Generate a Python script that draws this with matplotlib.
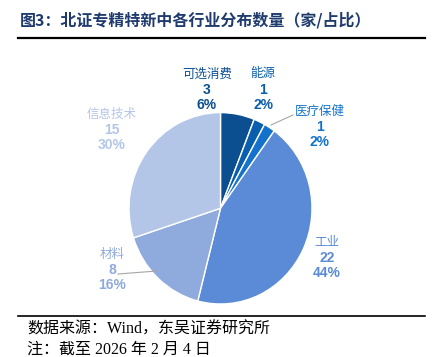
import matplotlib.pyplot as plt
from matplotlib.lines import Line2D

# data
sectors = ["可选消费", "能源", "医疗保健", "工业", "材料", "信息技术"]
counts = [3, 1, 1, 22, 8, 15]
shares = ["6%", "2%", "2%", "44%", "16%", "30%"]
colors = ["#0B4F91", "#0A5EAE", "#1373CC", "#5B8BD6", "#8FAADC", "#B4C6E7"]

W, H = 443, 357
fig = plt.figure(figsize=(W / 100, H / 100), dpi=100)


def px(x, y):
    return x / W, 1 - y / H


cjk = ["Noto Sans CJK SC", "DejaVu Sans"]
num = ["Liberation Sans", "DejaVu Sans"]
serif = ["Liberation Serif", "Noto Sans CJK SC"]

# title + rules
fig.text(*px(20, 20), "图3：北证专精特新中各行业分布数量（家/占比）", family=cjk,
         fontsize=11.5, fontweight="bold", color="#1F3B6E", va="center", ha="left")
fig.add_artist(Line2D([18 / W, 425 / W], [1 - 38 / H] * 2, color="black", lw=1.6))
fig.add_artist(Line2D([18 / W, 425 / W], [1 - 316 / H] * 2, color="black", lw=1.2))

# pie
cx, cy, rx, ry = 220.5, 208.3, 91.5, 95.7
ax = fig.add_axes([(cx - rx) / W, 1 - (cy + ry) / H, 2 * rx / W, 2 * ry / H])
ax.pie(counts, colors=colors, startangle=90, counterclock=False,
       wedgeprops=dict(edgecolor="white", linewidth=1.0))
ax.set_aspect("auto")
ax.set_xlim(-1, 1)
ax.set_ylim(-1, 1)
ax.axis("off")

# labels
label_pos = {
    "可选消费": (207, 74),
    "能源": (263, 74),
    "医疗保健": (320, 111),
    "工业": (327, 242),
    "材料": (112, 254),
    "信息技术": (112, 114),
}
for name, n, s, c in zip(sectors, counts, shares, colors):
    x, y = label_pos[name]
    fig.text(*px(x, y), name, family=cjk, fontsize=9, color=c, ha="center", va="center")
    fig.text(*px(x, y + 16), str(n), family=num, fontsize=10, fontweight="bold",
             color=c, ha="center", va="center")
    fig.text(*px(x, y + 31), s, family=num, fontsize=10, fontweight="bold",
             color=c, ha="center", va="center")

# leader lines
fig.add_artist(Line2D([271 / W, 293 / W], [1 - 125 / H, 1 - 115 / H], color="#A6A6A6", lw=0.8))
fig.add_artist(Line2D([118 / W, 157 / W], [1 - 274 / H, 1 - 271 / H], color="#A6A6A6", lw=0.8))

# footer
fig.text(*px(27, 330), "数据来源：Wind，东吴证券研究所", family=serif, fontsize=11.5,
         color="black", ha="left", va="center")
fig.text(*px(27, 350), "注：截至 2026 年 2 月 4 日", family=serif, fontsize=11.5,
         color="black", ha="left", va="center")

fig.savefig("out.png", dpi=100)
